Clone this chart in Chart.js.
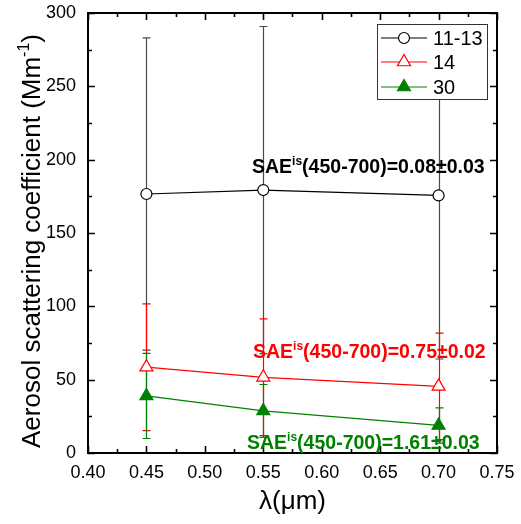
<!DOCTYPE html>
<html>
<head>
<meta charset="utf-8">
<script src="https://cdn.jsdelivr.net/npm/chart.js@4.4.0/dist/chart.umd.min.js"></script>
<style>
  body { margin: 0; background: #fff; }
  canvas { display: block; }
</style>
</head>
<body>
<canvas id="scatChart" width="521" height="524" style="width:521px;height:524px"></canvas>
<script>
// wavelengths (um) and the three groups
const wavelengths = [0.45, 0.55, 0.70];
const groupNames = ['11-13', '14', '30'];

const scat1113 = [176.6, 179.3, 175.6];
const err1113 = [106.5, 111.5, 111.5];
const scat14 = [58.5, 51.6, 45.4];
const err14 = [43.2, 39.8, 36.3];
const scat30 = [38.9, 28.7, 18.8];
const err30 = [29.0, 18.0, 12.0];

const saeText = ['0.08±0.03', '0.75±0.02', '1.61±0.03'];

const xTicks = [0.40, 0.45, 0.50, 0.55, 0.60, 0.65, 0.70, 0.75];
const yTicks = [0, 50, 100, 150, 200, 250, 300];

const colors = ['#000000', '#ff0000', '#008000'];
const barColors = ['#4a4a4a', '#ff0000', '#008000'];
const FONT = 'Liberation Sans, Arial, sans-serif';

function toPoints(vals) {
  return vals.map((v, i) => ({x: wavelengths[i], y: v}));
}
const allErr = [err1113, err14, err30];

function markerPath(ctx, style, cx, cy) {
  ctx.beginPath();
  if (style === 'circle') {
    ctx.arc(cx, cy, 5.5, 0, Math.PI * 2);
  } else {
    const r = 7.5;
    ctx.moveTo(cx, cy - r);
    ctx.lineTo(cx + r * 0.866, cy + r * 0.5);
    ctx.lineTo(cx - r * 0.866, cy + r * 0.5);
    ctx.closePath();
  }
}

const errorBars = {
  id: 'errorBars',
  beforeDatasetsDraw(chart) {
    const ctx = chart.ctx;
    const x = chart.scales.x, y = chart.scales.y;
    chart.data.datasets.forEach((ds, i) => {
      ctx.save();
      ctx.strokeStyle = barColors[i];
      ctx.lineWidth = 1.2;
      ds.data.forEach((p, j) => {
        const px = Math.round(x.getPixelForValue(p.x)) + 0.5;
        const top = y.getPixelForValue(p.y + allErr[i][j]);
        const bot = y.getPixelForValue(p.y - allErr[i][j]);
        ctx.beginPath();
        ctx.moveTo(px, top); ctx.lineTo(px, bot);
        ctx.moveTo(px - 4, top); ctx.lineTo(px + 4, top);
        ctx.moveTo(px - 4, bot); ctx.lineTo(px + 4, bot);
        ctx.stroke();
      });
      ctx.restore();
    });
  }
};

const frameAndTicks = {
  id: 'frameAndTicks',
  afterDraw(chart) {
    const ctx = chart.ctx;
    const a = chart.chartArea;
    const x = chart.scales.x, y = chart.scales.y;
    ctx.save();
    ctx.strokeStyle = '#000';
    ctx.lineWidth = 1.6;
    ctx.beginPath();
    // x ticks, major + minor, bottom and top, pointing inwards
    xTicks.forEach((t, k) => {
      const px = Math.round(x.getPixelForValue(t)) + 0.5;
      ctx.moveTo(px, a.bottom); ctx.lineTo(px, a.bottom - 7);
      ctx.moveTo(px, a.top); ctx.lineTo(px, a.top + 7);
      if (k < xTicks.length - 1) {
        const mx = Math.round(x.getPixelForValue((t + xTicks[k + 1]) / 2)) + 0.5;
        ctx.moveTo(mx, a.bottom); ctx.lineTo(mx, a.bottom - 4);
        ctx.moveTo(mx, a.top); ctx.lineTo(mx, a.top + 4);
      }
    });
    yTicks.forEach((t, k) => {
      const py = Math.round(y.getPixelForValue(t)) + 0.5;
      ctx.moveTo(a.left, py); ctx.lineTo(a.left + 7, py);
      ctx.moveTo(a.right, py); ctx.lineTo(a.right - 7, py);
      if (k < yTicks.length - 1) {
        const my = Math.round(y.getPixelForValue((t + yTicks[k + 1]) / 2)) + 0.5;
        ctx.moveTo(a.left, my); ctx.lineTo(a.left + 4, my);
        ctx.moveTo(a.right, my); ctx.lineTo(a.right - 4, my);
      }
    });
    ctx.stroke();
    ctx.lineWidth = 2;
    ctx.strokeRect(a.left, a.top, a.right - a.left, a.bottom - a.top);

    // SAE annotations
    const annPos = [[252, 173], [253, 358], [247, 449]];
    saeText.forEach((s, i) => {
      let [tx, ty] = annPos[i];
      ctx.fillStyle = colors[i];
      ctx.textBaseline = 'alphabetic';
      ctx.textAlign = 'left';
      ctx.font = 'bold 19.5px ' + FONT;
      ctx.fillText('SAE', tx, ty);
      tx += ctx.measureText('SAE').width;
      ctx.font = 'bold 12px ' + FONT;
      ctx.fillText('is', tx, ty - 8);
      tx += ctx.measureText('is').width;
      ctx.font = 'bold 19.5px ' + FONT;
      ctx.fillText('(450-700)=' + s, tx, ty);
    });

    // legend box
    const lx = 377.5, ly = 24.5, lw = 110, lh = 75;
    ctx.fillStyle = '#fff';
    ctx.fillRect(lx, ly, lw, lh);
    ctx.strokeStyle = '#333';
    ctx.lineWidth = 1;
    ctx.strokeRect(lx, ly, lw, lh);
    const rows = [38, 62, 87];
    chart.data.datasets.forEach((ds, i) => {
      const ry = rows[i];
      ctx.strokeStyle = colors[i];
      ctx.lineWidth = 1.2;
      ctx.beginPath();
      ctx.moveTo(381, ry); ctx.lineTo(427, ry);
      ctx.stroke();
      markerPath(ctx, ds.pointStyle, 404, ry);
      ctx.fillStyle = ds.pointBackgroundColor;
      ctx.fill();
      ctx.stroke();
      ctx.fillStyle = '#000';
      ctx.font = '20px ' + FONT;
      ctx.textBaseline = 'middle';
      ctx.fillText(ds.label, 433, ry + 1);
    });

    // axis titles
    ctx.fillStyle = '#000';
    ctx.textBaseline = 'alphabetic';
    ctx.font = '26px ' + FONT;
    ctx.textAlign = 'center';
    ctx.fillText('λ(μm)', (a.left + a.right) / 2, 509);

    ctx.save();
    ctx.translate(40, 241);
    ctx.rotate(-Math.PI / 2);
    ctx.textAlign = 'left';
    const p1 = 'Aerosol scattering coefficient (Mm', p2 = '-1', p3 = ')';
    ctx.font = '26px ' + FONT;
    const w1 = ctx.measureText(p1).width, w3 = ctx.measureText(p3).width;
    ctx.font = '16px ' + FONT;
    const w2 = ctx.measureText(p2).width;
    let sx = -(w1 + w2 + w3) / 2;
    ctx.font = '26px ' + FONT;
    ctx.fillText(p1, sx, 0);
    sx += w1;
    ctx.font = '16px ' + FONT;
    ctx.fillText(p2, sx, -11);
    sx += w2;
    ctx.font = '26px ' + FONT;
    ctx.fillText(p3, sx, 0);
    ctx.restore();

    ctx.restore();
  }
};

const datasets = [
  {
    label: groupNames[0], data: toPoints(scat1113),
    borderColor: colors[0], borderWidth: 1.2,
    pointStyle: 'circle', pointRadius: 5.5,
    pointBackgroundColor: '#ffffff', pointBorderColor: colors[0], pointBorderWidth: 1.2
  },
  {
    label: groupNames[1], data: toPoints(scat14),
    borderColor: colors[1], borderWidth: 1.2,
    pointStyle: 'triangle', pointRadius: 7.5,
    pointBackgroundColor: '#ffffff', pointBorderColor: colors[1], pointBorderWidth: 1.2
  },
  {
    label: groupNames[2], data: toPoints(scat30),
    borderColor: colors[2], borderWidth: 1.2,
    pointStyle: 'triangle', pointRadius: 7.5,
    pointBackgroundColor: colors[2], pointBorderColor: colors[2], pointBorderWidth: 1.2
  }
];

Chart.defaults.color = '#000';
Chart.defaults.font.family = FONT;

new Chart(document.getElementById('scatChart'), {
  type: 'line',
  data: { datasets: datasets },
  options: {
    responsive: false,
    animation: false,
    layout: { padding: { top: 13, right: 24, left: 0, bottom: 0 } },
    plugins: { legend: { display: false }, tooltip: { enabled: false } },
    scales: {
      x: {
        type: 'linear', min: 0.40, max: 0.75,
        afterFit(scale) {
          scale.height = 71;
          scale.paddingLeft = 0; scale.paddingRight = 0;
        },
        afterBuildTicks(scale) { scale.ticks = xTicks.map(v => ({value: v})); },
        grid: { display: false, drawTicks: false },
        border: { display: false },
        ticks: { font: { size: 18 }, padding: 9, maxRotation: 0, callback: v => v.toFixed(2) }
      },
      y: {
        type: 'linear', min: 0, max: 300,
        afterFit(scale) {
          scale.width = 88;
          scale.paddingTop = 0; scale.paddingBottom = 0;
        },
        afterBuildTicks(scale) { scale.ticks = yTicks.map(v => ({value: v})); },
        grid: { display: false, drawTicks: false },
        border: { display: false },
        ticks: { font: { size: 18 }, padding: 12 }
      }
    }
  },
  plugins: [errorBars, frameAndTicks]
});
</script>
</body>
</html>
